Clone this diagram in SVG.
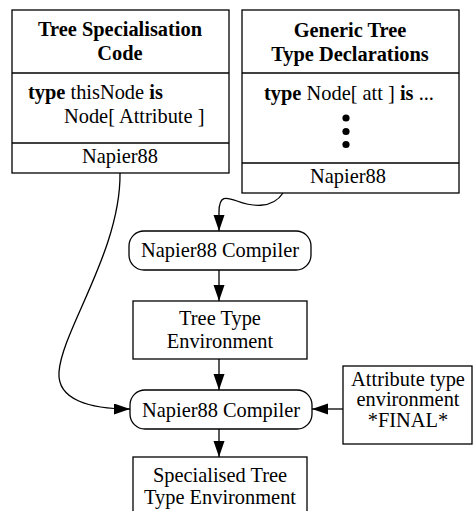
<svg xmlns="http://www.w3.org/2000/svg" width="473" height="511" viewBox="0 0 473 511">
  <style>
    .box { fill: #fff; stroke: #000; stroke-width: 1.3; }
    .ln { fill: none; stroke: #000; stroke-width: 1.3; }
    text { font-family: "Liberation Serif", "Times New Roman", serif; font-size: 20.4px; fill: #000; }
    .c { text-anchor: middle; }
    .b { font-weight: bold; }
  </style>
  <defs>
    <marker id="arrow" markerUnits="userSpaceOnUse" markerWidth="17" markerHeight="12" refX="16" refY="5.5" orient="auto">
      <path d="M0,0 L16,5.5 L0,11 z" fill="#000"/>
    </marker>
  </defs>
  <rect width="473" height="511" fill="#fff"/>

  <g id="connectors">
    <path class="ln" d="M283,193 C272,210 250,206 237,201 C226,197 219,195 219,212 L219,231" marker-end="url(#arrow)"/>
    <path class="ln" d="M219,270 L219,301" marker-end="url(#arrow)"/>
    <path class="ln" d="M219,359 L219,390" marker-end="url(#arrow)"/>
    <path class="ln" d="M120,173 C121,250 62,330 59,372 C57,400 90,409 130,409" marker-end="url(#arrow)"/>
    <path class="ln" d="M343,409 L312,409" marker-end="url(#arrow)"/>
    <path class="ln" d="M219,429 L219,457" marker-end="url(#arrow)"/>
  </g>

  <g id="tree-specialisation-code">
    <rect class="box" x="12" y="10" width="217" height="163"/>
    <line class="ln" x1="12" y1="73" x2="229" y2="73"/>
    <line class="ln" x1="12" y1="143" x2="229" y2="143"/>
    <text class="c b" x="120" y="36">Tree Specialisation</text>
    <text class="c b" x="120" y="60">Code</text>
    <text x="28" y="99"><tspan class="b">type</tspan> thisNode <tspan class="b">is</tspan></text>
    <text x="64" y="123">Node[ Attribute ]</text>
    <text class="c" x="120" y="163">Napier88</text>
  </g>

  <g id="generic-tree-type-declarations">
    <rect class="box" x="242" y="10" width="217" height="183"/>
    <line class="ln" x1="242" y1="73" x2="459" y2="73"/>
    <line class="ln" x1="242" y1="163" x2="459" y2="163"/>
    <text class="c b" x="350" y="37">Generic Tree</text>
    <text class="c b" x="350" y="61">Type Declarations</text>
    <text class="c" x="349" y="100"><tspan class="b">type</tspan> Node[ att ] <tspan class="b">is</tspan> ...</text>
    <circle cx="346" cy="118" r="3.6"/>
    <circle cx="346" cy="131.5" r="3.6"/>
    <circle cx="346" cy="144.5" r="3.6"/>
    <text class="c" x="348" y="183">Napier88</text>
  </g>

  <g id="compiler-1">
    <rect class="box" x="129" y="231" width="182" height="39" rx="15" ry="15"/>
    <text class="c" x="220" y="257">Napier88 Compiler</text>
  </g>

  <g id="tree-type-environment">
    <rect class="box" x="133" y="301" width="174" height="58"/>
    <text class="c" x="220" y="325">Tree Type</text>
    <text class="c" x="220" y="348">Environment</text>
  </g>

  <g id="compiler-2">
    <rect class="box" x="130" y="390" width="182" height="39" rx="15" ry="15"/>
    <text class="c" x="221" y="417">Napier88 Compiler</text>
  </g>

  <g id="attribute-type-environment">
    <rect class="box" x="343" y="366" width="129" height="78"/>
    <text class="c" x="408" y="386">Attribute type</text>
    <text class="c" x="408" y="406">environment</text>
    <text class="c" x="408" y="427">*FINAL*</text>
  </g>

  <g id="specialised-tree-type-environment">
    <rect class="box" x="133" y="457" width="174" height="60"/>
    <text class="c" x="220" y="482">Specialised Tree</text>
    <text class="c" x="220" y="504">Type Environment</text>
  </g>
</svg>
